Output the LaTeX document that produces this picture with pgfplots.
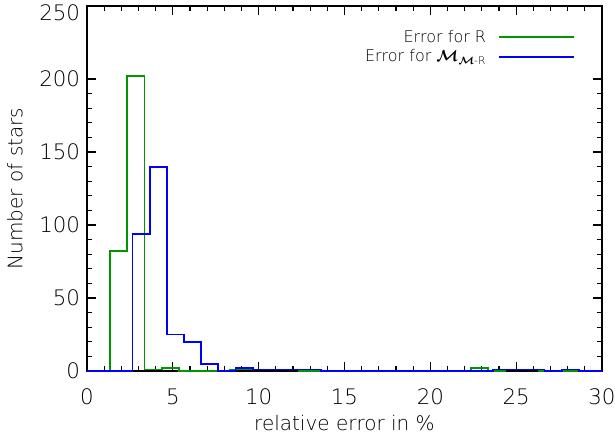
\documentclass[border=0pt]{standalone}
\usepackage{amsmath}
\usepackage{fontspec}
\setmainfont{DejaVu Sans ExtraLight}
\usepackage{pgfplots}
\pgfplotsset{compat=1.18}

\definecolor{errR}{RGB}{0,150,0}
\definecolor{errM}{RGB}{0,0,255}

\begin{document}
\begin{tikzpicture}
\begin{axis}[
    scale only axis,
    width=386.25pt, height=273.75pt,
    xmin=0, xmax=30, ymin=0, ymax=250,
    xtick={0,5,...,30}, ytick={0,50,...,200},
    extra y ticks={250},
    extra y tick style={yticklabel style={yshift=-5pt}},
    minor x tick num=4, minor y tick num=4,
    tick align=inside,
    major tick length=7pt, minor tick length=3.5pt,
    axis line style={line width=0.9pt},
    every tick/.style={black, line width=0.8pt},
    /pgf/number format/assume math mode=true,
    tick label style={font=\fontsize{16}{16}\selectfont},
    xticklabel style={anchor=center, yshift=-19.5pt},
    yticklabel style={anchor=east, inner sep=0pt, xshift=-5pt},
    label style={font=\fontsize{15}{15}\selectfont},
    xlabel={relative error in \%},
    ylabel={Number of stars},
    xlabel style={at={(axis description cs:0.5,-0.1425)}, anchor=center},
    ylabel style={at={(axis description cs:-0.14,0.5)}, anchor=center},
    legend style={draw=none, fill=none, at={(axis description cs:0.95,0.945)},
        anchor=north east, font=\fontsize{12}{13.5}\selectfont,
        row sep=0pt, column sep=7pt, inner sep=1pt},
    legend cell align=right,
    legend plot pos=right,
    legend image code/.code={\draw[#1] (0pt,0pt) -- (56pt,0pt);},
]
% Error for R
\addplot[const plot mark left, color=errR, line width=1.4pt] coordinates {
(0,0) (1.35,82) (2.35,202) (3.35,1) (4.35,2) (5.35,0) (8.35,1) (12.35,0)
(22.35,2) (23.35,0) (24.35,1) (26.35,0) (30,0)
};
\addlegendentry{Error for R}
% Error for M_{M-R}
\addplot[const plot mark left, color=errM, line width=1.4pt] coordinates {
(0,0) (2.65,94) (3.65,140) (4.65,25) (5.65,20) (6.65,5) (7.65,0) (8.65,2)
(9.65,1) (13.65,0) (23.65,1) (26.65,0) (27.65,1) (28.65,0) (30,0)
};
\addlegendentry{Error for $\boldsymbol{\mathcal{M}}_{\boldsymbol{\mathcal{M}}\text{-R}}$}
\end{axis}
\pgfresetboundingbox
\path[use as bounding box] (-65.25pt,-48.75pt) rectangle (396pt,278.25pt);
\end{tikzpicture}
\end{document}
